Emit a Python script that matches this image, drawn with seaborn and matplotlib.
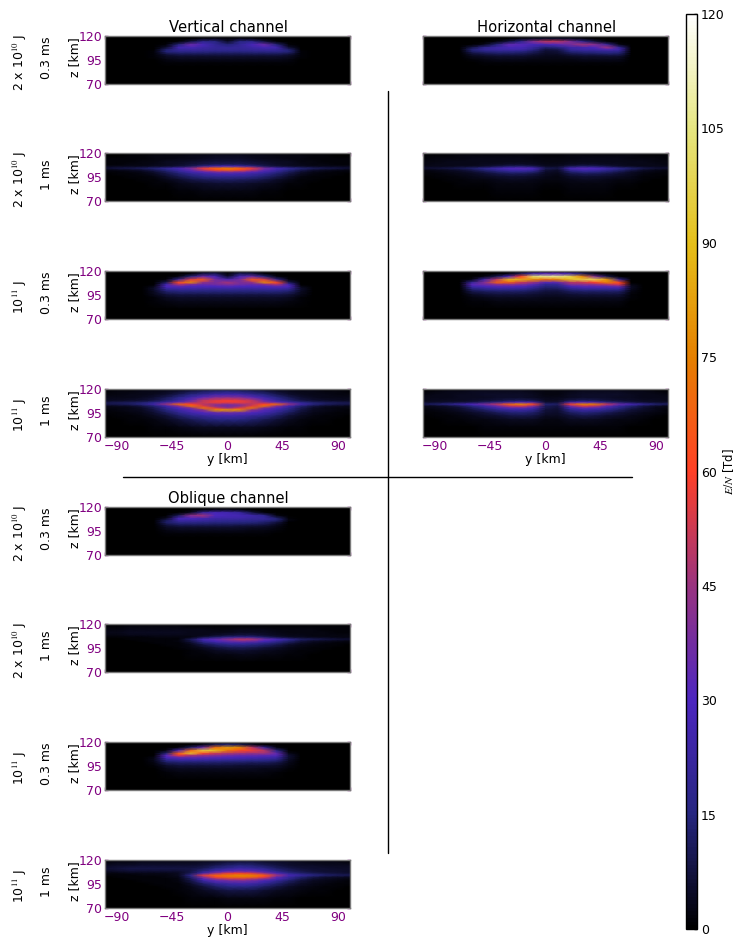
import numpy as np
import matplotlib
matplotlib.use("Agg")
import matplotlib.pyplot as plt
from matplotlib.lines import Line2D
import seaborn as sns

sns.set_style("white")
plt.rcParams.update({'font.size': 9, 'mathtext.fontset': 'stix', 'font.family': ['DejaVu Sans'],
                     'text.color': 'black', 'axes.labelcolor': 'black'})

# E/N values [Td], rows follow z_km, columns follow y_km
y_km = [-100, -90, -80, -70, -60, -50, -40, -30, -20, -10, 0, 10, 20, 30, 40, 50, 60, 70, 80, 90, 100]
z_km = [120, 117, 114, 111, 108, 106, 104, 102, 100, 98, 95, 92, 88, 80, 70]
blank = [0, 0, 0, 0, 0, 0, 0, 0, 0, 0, 0, 0, 0, 0, 0, 0, 0, 0, 0, 0, 0]

vert_2e10_03 = [
    blank,
    [0, 0, 0, 0, 0, 0, 0, 0, 2, 3, 1, 3, 2, 0, 0, 0, 0, 0, 0, 0, 0],
    [0, 0, 0, 0, 0, 0, 1, 8, 18, 16, 5, 16, 18, 8, 1, 0, 0, 0, 0, 0, 0],
    [0, 0, 0, 0, 0, 1, 14, 36, 28, 20, 14, 20, 28, 36, 14, 1, 0, 0, 0, 0, 0],
    [0, 0, 0, 0, 0, 6, 26, 28, 24, 21, 20, 21, 24, 28, 26, 6, 0, 0, 0, 0, 0],
    [0, 0, 0, 0, 0, 12, 22, 23, 22, 20, 20, 20, 22, 23, 22, 12, 0, 0, 0, 0, 0],
    [0, 0, 0, 0, 1, 15, 19, 19, 18, 17, 17, 17, 18, 19, 19, 15, 1, 0, 0, 0, 0],
    [0, 0, 0, 0, 1, 11, 13, 13, 13, 12, 12, 12, 13, 13, 13, 11, 1, 0, 0, 0, 0],
    [0, 0, 0, 0, 1, 6, 8, 8, 8, 8, 8, 8, 8, 8, 8, 6, 1, 0, 0, 0, 0],
    [0, 0, 0, 0, 1, 4, 5, 5, 5, 5, 5, 5, 5, 5, 5, 4, 1, 0, 0, 0, 0],
    [0, 0, 0, 0, 0, 2, 3, 3, 3, 3, 3, 3, 3, 3, 3, 2, 0, 0, 0, 0, 0],
    [0, 0, 0, 0, 0, 1, 1, 1, 1, 1, 1, 1, 1, 1, 1, 1, 0, 0, 0, 0, 0],
    blank,
    blank,
    blank,
]
vert_2e10_1 = [
    [0, 0, 0, 0, 0, 1, 1, 1, 1, 1, 1, 1, 1, 1, 1, 1, 0, 0, 0, 0, 0],
    [0, 0, 1, 1, 2, 2, 2, 3, 3, 4, 4, 4, 3, 3, 2, 2, 2, 1, 1, 0, 0],
    [1, 1, 1, 1, 2, 2, 3, 3, 4, 5, 5, 5, 4, 3, 3, 2, 2, 1, 1, 1, 1],
    [1, 1, 1, 2, 2, 4, 4, 5, 6, 7, 7, 7, 6, 5, 4, 4, 2, 2, 1, 1, 1],
    [1, 1, 2, 2, 3, 4, 5, 7, 8, 10, 10, 10, 8, 7, 5, 4, 3, 2, 2, 1, 1],
    [3, 3, 3, 3, 4, 5, 7, 10, 18, 26, 30, 26, 18, 10, 7, 5, 4, 3, 3, 3, 3],
    [6, 8, 9, 11, 14, 20, 27, 38, 56, 68, 74, 68, 56, 38, 27, 20, 14, 11, 9, 8, 6],
    [2, 3, 4, 6, 10, 15, 24, 34, 50, 62, 68, 62, 50, 34, 24, 15, 10, 6, 4, 3, 2],
    [1, 1, 2, 3, 6, 11, 18, 26, 32, 38, 40, 38, 32, 26, 18, 11, 6, 3, 2, 1, 1],
    [0, 1, 1, 2, 4, 8, 13, 19, 23, 26, 27, 26, 23, 19, 13, 8, 4, 2, 1, 1, 0],
    [0, 0, 1, 1, 2, 5, 9, 13, 16, 18, 18, 18, 16, 13, 9, 5, 2, 1, 1, 0, 0],
    [0, 0, 0, 1, 1, 3, 5, 8, 10, 11, 12, 11, 10, 8, 5, 3, 1, 1, 0, 0, 0],
    [0, 0, 0, 0, 1, 1, 3, 4, 5, 6, 6, 6, 5, 4, 3, 1, 1, 0, 0, 0, 0],
    [0, 0, 0, 0, 0, 0, 1, 1, 2, 2, 2, 2, 2, 1, 1, 0, 0, 0, 0, 0, 0],
    blank,
]
vert_1e11_03 = [
    blank,
    [0, 0, 0, 0, 0, 0, 0, 1, 8, 10, 1, 10, 8, 1, 0, 0, 0, 0, 0, 0, 0],
    [0, 0, 0, 0, 0, 0, 2, 15, 36, 28, 6, 28, 36, 15, 2, 0, 0, 0, 0, 0, 0],
    [0, 0, 0, 0, 0, 1, 20, 55, 66, 38, 28, 38, 66, 55, 20, 1, 0, 0, 0, 0, 0],
    [0, 0, 0, 0, 0, 10, 62, 78, 44, 38, 46, 38, 44, 78, 62, 10, 0, 0, 0, 0, 0],
    [0, 0, 0, 0, 0, 24, 50, 42, 36, 38, 42, 38, 36, 42, 50, 24, 0, 0, 0, 0, 0],
    [0, 0, 0, 0, 2, 30, 34, 30, 30, 30, 32, 30, 30, 30, 34, 30, 2, 0, 0, 0, 0],
    [0, 0, 0, 0, 5, 24, 26, 25, 24, 24, 25, 24, 24, 25, 26, 24, 5, 0, 0, 0, 0],
    [0, 0, 0, 0, 5, 17, 19, 19, 18, 18, 18, 18, 18, 19, 19, 17, 5, 0, 0, 0, 0],
    [0, 0, 0, 0, 4, 12, 14, 14, 14, 14, 14, 14, 14, 14, 14, 12, 4, 0, 0, 0, 0],
    [0, 0, 0, 0, 3, 7, 8, 8, 8, 8, 8, 8, 8, 8, 8, 7, 3, 0, 0, 0, 0],
    [0, 0, 0, 0, 1, 4, 5, 5, 5, 5, 5, 5, 5, 5, 5, 4, 1, 0, 0, 0, 0],
    [0, 0, 0, 0, 1, 2, 3, 3, 3, 3, 3, 3, 3, 3, 3, 2, 1, 0, 0, 0, 0],
    blank,
    blank,
]
vert_1e11_1 = [
    [1, 1, 1, 2, 2, 3, 3, 4, 5, 6, 6, 6, 5, 4, 3, 3, 2, 2, 1, 1, 1],
    [1, 2, 2, 3, 3, 4, 6, 9, 12, 14, 15, 14, 12, 9, 6, 4, 3, 3, 2, 2, 1],
    [2, 2, 3, 3, 4, 6, 10, 15, 20, 25, 26, 25, 20, 15, 10, 6, 4, 3, 3, 2, 2],
    [3, 3, 3, 4, 6, 10, 16, 24, 33, 40, 42, 40, 33, 24, 16, 10, 6, 4, 3, 3, 3],
    [4, 4, 5, 6, 8, 14, 22, 34, 50, 55, 58, 55, 50, 34, 22, 14, 8, 6, 5, 4, 4],
    [8, 9, 10, 12, 16, 24, 32, 42, 52, 58, 58, 58, 52, 42, 32, 24, 16, 12, 10, 9, 8],
    [9, 10, 12, 16, 26, 45, 70, 60, 50, 45, 42, 45, 50, 60, 70, 45, 26, 16, 12, 10, 9],
    [3, 4, 5, 8, 14, 26, 42, 72, 55, 40, 36, 40, 55, 72, 42, 26, 14, 8, 5, 4, 3],
    [2, 2, 3, 5, 10, 20, 30, 40, 72, 55, 44, 55, 72, 40, 30, 20, 10, 5, 3, 2, 2],
    [1, 2, 3, 4, 8, 15, 24, 32, 42, 78, 80, 78, 42, 32, 24, 15, 8, 4, 3, 2, 1],
    [1, 1, 2, 3, 6, 11, 18, 25, 30, 34, 36, 34, 30, 25, 18, 11, 6, 3, 2, 1, 1],
    [0, 1, 1, 2, 4, 7, 12, 17, 21, 24, 25, 24, 21, 17, 12, 7, 4, 2, 1, 1, 0],
    [0, 0, 1, 1, 2, 4, 7, 10, 13, 15, 15, 15, 13, 10, 7, 4, 2, 1, 1, 0, 0],
    [0, 0, 0, 0, 1, 1, 2, 3, 4, 4, 4, 4, 4, 3, 2, 1, 1, 0, 0, 0, 0],
    blank,
]

horiz_2e10_03 = [
    blank,
    [0, 0, 0, 0, 0, 0, 0, 0, 2, 4, 5, 5, 4, 2, 0, 0, 0, 0, 0, 0, 0],
    [0, 0, 0, 0, 0, 0, 2, 8, 18, 40, 50, 50, 40, 20, 8, 1, 0, 0, 0, 0, 0],
    [0, 0, 0, 0, 0, 3, 14, 34, 32, 28, 28, 32, 38, 46, 42, 22, 2, 0, 0, 0, 0],
    [0, 0, 0, 0, 8, 18, 24, 28, 28, 22, 14, 16, 24, 26, 30, 46, 20, 0, 0, 0, 0],
    [0, 0, 0, 0, 14, 22, 24, 26, 26, 18, 8, 10, 22, 25, 26, 32, 26, 0, 0, 0, 0],
    [0, 0, 0, 0, 13, 17, 18, 18, 17, 12, 6, 7, 15, 18, 19, 20, 20, 0, 0, 0, 0],
    [0, 0, 0, 0, 8, 11, 13, 13, 12, 9, 5, 6, 11, 13, 14, 15, 14, 0, 0, 0, 0],
    [0, 0, 0, 0, 5, 7, 8, 8, 8, 6, 4, 4, 7, 8, 8, 9, 9, 0, 0, 0, 0],
    [0, 0, 0, 0, 3, 4, 5, 5, 5, 4, 3, 3, 4, 5, 5, 5, 5, 0, 0, 0, 0],
    [0, 0, 0, 0, 1, 2, 3, 3, 3, 2, 2, 2, 2, 3, 3, 3, 3, 0, 0, 0, 0],
    [0, 0, 0, 0, 0, 1, 1, 1, 1, 1, 1, 1, 1, 1, 1, 1, 1, 0, 0, 0, 0],
    blank,
    blank,
    blank,
]
horiz_2e10_1 = [
    [0, 0, 1, 1, 1, 1, 1, 1, 1, 1, 1, 1, 1, 1, 1, 1, 1, 1, 1, 0, 0],
    [1, 1, 1, 2, 2, 2, 2, 2, 2, 2, 1, 1, 2, 2, 2, 2, 2, 2, 1, 1, 1],
    [1, 2, 2, 2, 3, 3, 3, 3, 3, 2, 2, 2, 2, 3, 3, 3, 3, 2, 2, 2, 1],
    [2, 2, 3, 3, 3, 3, 3, 3, 3, 3, 2, 2, 3, 3, 3, 3, 3, 3, 3, 2, 2],
    [2, 3, 3, 3, 3, 4, 4, 5, 5, 4, 3, 3, 4, 5, 5, 4, 4, 3, 3, 3, 2],
    [3, 3, 3, 4, 4, 5, 8, 11, 12, 9, 4, 4, 9, 12, 11, 8, 5, 4, 3, 3, 3],
    [6, 7, 8, 10, 13, 18, 24, 30, 32, 28, 10, 8, 27, 32, 30, 24, 18, 13, 9, 7, 6],
    [2, 3, 4, 6, 9, 14, 20, 25, 26, 23, 7, 5, 21, 26, 25, 20, 14, 9, 5, 3, 2],
    [1, 2, 3, 4, 6, 9, 13, 16, 17, 14, 5, 4, 13, 17, 16, 13, 9, 5, 3, 2, 1],
    [1, 1, 2, 3, 4, 6, 8, 10, 10, 8, 4, 3, 8, 10, 10, 8, 6, 4, 2, 1, 1],
    [0, 1, 1, 2, 3, 4, 5, 6, 6, 5, 3, 2, 5, 6, 6, 5, 4, 3, 1, 1, 0],
    [0, 0, 1, 1, 2, 2, 3, 4, 4, 3, 2, 2, 3, 4, 4, 3, 2, 2, 1, 0, 0],
    [0, 0, 0, 1, 1, 1, 2, 2, 2, 2, 1, 1, 2, 2, 2, 2, 1, 1, 0, 0, 0],
    [0, 0, 0, 0, 0, 0, 1, 1, 1, 1, 0, 0, 1, 1, 1, 1, 0, 0, 0, 0, 0],
    blank,
]
horiz_1e11_03 = [
    blank,
    [0, 0, 0, 0, 0, 0, 0, 2, 10, 25, 32, 32, 25, 12, 3, 0, 0, 0, 0, 0, 0],
    [0, 0, 0, 0, 0, 2, 10, 30, 60, 102, 106, 106, 98, 75, 40, 10, 0, 0, 0, 0, 0],
    [0, 0, 0, 0, 2, 24, 50, 88, 86, 78, 70, 76, 90, 96, 98, 80, 20, 0, 0, 0, 0],
    [0, 0, 0, 0, 20, 40, 68, 68, 52, 45, 32, 35, 48, 52, 60, 76, 62, 0, 0, 0, 0],
    [0, 0, 0, 0, 32, 38, 44, 45, 42, 34, 20, 22, 42, 44, 45, 50, 56, 2, 0, 0, 0],
    [0, 0, 0, 0, 26, 30, 32, 32, 30, 24, 15, 16, 28, 32, 33, 34, 38, 4, 0, 0, 0],
    [0, 0, 0, 0, 18, 22, 24, 24, 23, 18, 12, 13, 21, 24, 25, 25, 26, 4, 0, 0, 0],
    [0, 0, 0, 0, 12, 15, 16, 16, 15, 13, 9, 9, 14, 16, 16, 16, 17, 3, 0, 0, 0],
    [0, 0, 0, 0, 8, 10, 11, 11, 11, 9, 7, 7, 10, 11, 11, 11, 11, 2, 0, 0, 0],
    [0, 0, 0, 0, 4, 6, 7, 7, 7, 6, 5, 5, 6, 7, 7, 7, 7, 1, 0, 0, 0],
    [0, 0, 0, 0, 2, 3, 4, 4, 4, 4, 3, 3, 4, 4, 4, 4, 4, 1, 0, 0, 0],
    [0, 0, 0, 0, 1, 1, 2, 2, 2, 2, 2, 2, 2, 2, 2, 2, 2, 0, 0, 0, 0],
    blank,
    blank,
]
horiz_1e11_1 = [
    [0, 0, 1, 1, 1, 2, 2, 2, 2, 1, 1, 1, 1, 2, 2, 2, 2, 1, 1, 0, 0],
    [1, 2, 3, 3, 4, 4, 4, 4, 4, 3, 2, 2, 3, 4, 4, 4, 4, 3, 3, 2, 1],
    [2, 3, 3, 4, 4, 5, 5, 5, 5, 4, 2, 2, 4, 5, 5, 5, 5, 4, 3, 3, 2],
    [3, 3, 3, 4, 4, 4, 5, 5, 5, 4, 3, 3, 4, 5, 5, 5, 4, 4, 3, 3, 3],
    [3, 4, 4, 4, 5, 6, 7, 9, 10, 8, 4, 4, 8, 10, 9, 7, 6, 5, 4, 4, 3],
    [5, 5, 6, 7, 8, 12, 16, 24, 30, 24, 6, 6, 24, 30, 26, 16, 12, 8, 6, 5, 5],
    [10, 13, 17, 23, 30, 38, 50, 68, 78, 62, 14, 12, 58, 76, 74, 52, 36, 28, 20, 14, 11],
    [3, 4, 6, 10, 16, 24, 36, 50, 54, 42, 10, 8, 38, 54, 50, 34, 22, 14, 8, 5, 3],
    [2, 3, 4, 6, 11, 17, 25, 32, 34, 27, 9, 7, 25, 34, 32, 24, 16, 10, 6, 3, 2],
    [1, 2, 3, 5, 8, 12, 17, 22, 23, 19, 7, 6, 17, 23, 22, 17, 12, 7, 5, 3, 1],
    [1, 1, 2, 3, 5, 7, 10, 13, 14, 12, 6, 5, 11, 14, 13, 10, 7, 5, 3, 2, 1],
    [0, 1, 1, 2, 3, 5, 6, 8, 9, 8, 4, 4, 7, 9, 8, 6, 5, 3, 2, 1, 0],
    [0, 0, 1, 1, 2, 2, 3, 4, 4, 4, 2, 2, 4, 4, 4, 3, 2, 2, 1, 0, 0],
    [0, 0, 0, 0, 0, 1, 1, 1, 1, 1, 1, 1, 1, 1, 1, 1, 1, 0, 0, 0, 0],
    blank,
]

obl_2e10_03 = [
    blank,
    [0, 0, 0, 0, 0, 0, 0, 0, 1, 3, 3, 2, 0, 0, 0, 0, 0, 0, 0, 0, 0],
    [0, 0, 0, 0, 0, 0, 0, 4, 22, 28, 26, 22, 8, 1, 0, 0, 0, 0, 0, 0, 0],
    [0, 0, 0, 0, 0, 0, 10, 42, 46, 30, 28, 27, 24, 18, 2, 0, 0, 0, 0, 0, 0],
    [0, 0, 0, 0, 0, 4, 28, 30, 27, 24, 24, 24, 22, 22, 14, 1, 0, 0, 0, 0, 0],
    [0, 0, 0, 0, 0, 10, 24, 24, 23, 21, 20, 20, 19, 18, 14, 2, 0, 0, 0, 0, 0],
    [0, 0, 0, 0, 0, 13, 18, 18, 17, 16, 16, 15, 15, 13, 8, 0, 0, 0, 0, 0, 0],
    [0, 0, 0, 0, 0, 9, 13, 13, 13, 12, 12, 12, 11, 10, 5, 0, 0, 0, 0, 0, 0],
    [0, 0, 0, 0, 0, 6, 8, 8, 8, 8, 8, 7, 7, 6, 3, 0, 0, 0, 0, 0, 0],
    [0, 0, 0, 0, 0, 4, 5, 5, 5, 5, 5, 5, 4, 4, 2, 0, 0, 0, 0, 0, 0],
    [0, 0, 0, 0, 0, 2, 3, 3, 3, 3, 3, 3, 2, 2, 1, 0, 0, 0, 0, 0, 0],
    [0, 0, 0, 0, 0, 1, 1, 1, 1, 1, 1, 1, 1, 1, 0, 0, 0, 0, 0, 0, 0],
    blank,
    blank,
    blank,
]
obl_2e10_1 = [
    [0, 0, 1, 1, 1, 1, 1, 1, 0, 0, 1, 1, 1, 1, 0, 0, 0, 0, 0, 0, 0],
    [1, 1, 2, 2, 2, 2, 2, 1, 1, 1, 1, 1, 1, 1, 1, 1, 1, 1, 1, 1, 1],
    [2, 2, 3, 3, 3, 3, 3, 3, 3, 2, 2, 3, 3, 3, 2, 2, 2, 2, 1, 1, 1],
    [3, 3, 4, 4, 4, 4, 4, 3, 3, 3, 3, 4, 4, 4, 3, 2, 2, 2, 2, 1, 1],
    [2, 2, 3, 3, 3, 3, 3, 3, 3, 5, 7, 8, 8, 6, 4, 3, 3, 2, 2, 2, 2],
    [1, 1, 1, 1, 2, 2, 2, 2, 8, 13, 18, 20, 19, 13, 8, 5, 4, 3, 3, 2, 2],
    [0, 0, 1, 1, 1, 1, 1, 10, 26, 34, 42, 50, 48, 36, 28, 20, 12, 10, 8, 7, 6],
    [0, 0, 0, 1, 1, 1, 2, 8, 22, 30, 36, 40, 38, 30, 22, 14, 8, 5, 4, 3, 2],
    [0, 0, 0, 0, 1, 1, 1, 5, 14, 20, 24, 25, 23, 19, 14, 9, 5, 3, 2, 1, 1],
    [0, 0, 0, 0, 0, 1, 1, 3, 8, 13, 16, 17, 15, 13, 9, 5, 3, 2, 1, 1, 0],
    [0, 0, 0, 0, 0, 0, 1, 2, 4, 7, 9, 10, 9, 7, 5, 3, 2, 1, 1, 0, 0],
    [0, 0, 0, 0, 0, 0, 0, 1, 2, 4, 5, 6, 5, 4, 3, 2, 1, 1, 0, 0, 0],
    [0, 0, 0, 0, 0, 0, 0, 1, 1, 2, 2, 3, 3, 2, 2, 1, 1, 0, 0, 0, 0],
    blank,
    blank,
]
obl_1e11_03 = [
    blank,
    [0, 0, 0, 0, 0, 0, 0, 0, 3, 10, 14, 10, 4, 0, 0, 0, 0, 0, 0, 0, 0],
    [0, 0, 0, 0, 0, 0, 1, 12, 35, 70, 82, 76, 50, 22, 2, 0, 0, 0, 0, 0, 0],
    [0, 0, 0, 0, 0, 2, 28, 68, 95, 90, 72, 62, 58, 50, 16, 0, 0, 0, 0, 0, 0],
    [0, 0, 0, 0, 0, 14, 66, 92, 62, 52, 48, 46, 44, 46, 34, 3, 0, 0, 0, 0, 0],
    [0, 0, 0, 0, 0, 32, 58, 48, 44, 42, 38, 36, 36, 34, 32, 6, 0, 0, 0, 0, 0],
    [0, 0, 0, 0, 2, 30, 36, 36, 34, 32, 30, 29, 28, 27, 24, 6, 0, 0, 0, 0, 0],
    [0, 0, 0, 0, 3, 22, 27, 27, 26, 25, 24, 23, 22, 21, 19, 5, 0, 0, 0, 0, 0],
    [0, 0, 0, 0, 3, 15, 18, 18, 18, 17, 16, 16, 15, 15, 13, 4, 0, 0, 0, 0, 0],
    [0, 0, 0, 0, 2, 10, 12, 12, 12, 12, 11, 11, 10, 10, 8, 3, 0, 0, 0, 0, 0],
    [0, 0, 0, 0, 1, 5, 7, 7, 7, 7, 7, 6, 6, 6, 5, 2, 0, 0, 0, 0, 0],
    [0, 0, 0, 0, 0, 3, 4, 4, 4, 4, 4, 4, 4, 3, 3, 1, 0, 0, 0, 0, 0],
    [0, 0, 0, 0, 0, 1, 2, 2, 2, 2, 2, 2, 2, 2, 1, 0, 0, 0, 0, 0, 0],
    blank,
    blank,
]
obl_1e11_1 = [
    [1, 1, 1, 2, 2, 2, 2, 2, 2, 3, 3, 4, 4, 3, 3, 2, 2, 2, 2, 1, 1],
    [2, 3, 3, 4, 4, 4, 4, 4, 5, 6, 8, 9, 9, 7, 6, 5, 4, 3, 3, 3, 2],
    [4, 5, 5, 6, 6, 6, 6, 6, 7, 10, 13, 15, 14, 11, 8, 6, 5, 5, 4, 4, 4],
    [6, 7, 8, 8, 8, 8, 8, 8, 10, 15, 20, 24, 22, 18, 12, 9, 7, 6, 6, 5, 5],
    [4, 5, 6, 6, 6, 6, 6, 8, 16, 26, 32, 35, 33, 26, 18, 12, 9, 7, 6, 6, 5],
    [2, 2, 3, 3, 3, 3, 4, 10, 26, 44, 56, 58, 54, 42, 28, 18, 13, 10, 8, 7, 6],
    [1, 1, 1, 2, 2, 2, 4, 18, 55, 68, 72, 76, 74, 66, 46, 28, 22, 16, 13, 11, 10],
    [0, 1, 1, 1, 1, 2, 3, 14, 42, 62, 70, 72, 70, 58, 34, 22, 14, 9, 6, 5, 4],
    [0, 0, 1, 1, 1, 1, 2, 10, 30, 44, 50, 52, 48, 40, 28, 18, 10, 6, 4, 3, 2],
    [0, 0, 0, 1, 1, 1, 2, 8, 22, 32, 36, 38, 36, 28, 20, 12, 7, 4, 3, 2, 1],
    [0, 0, 0, 0, 1, 1, 1, 5, 12, 19, 23, 25, 24, 19, 13, 8, 5, 3, 2, 1, 1],
    [0, 0, 0, 0, 0, 1, 1, 3, 7, 12, 15, 16, 15, 12, 8, 5, 3, 2, 1, 1, 0],
    [0, 0, 0, 0, 0, 0, 1, 2, 4, 6, 8, 8, 8, 6, 4, 3, 2, 1, 1, 0, 0],
    [0, 0, 0, 0, 0, 0, 0, 1, 1, 1, 2, 2, 2, 2, 1, 1, 0, 0, 0, 0, 0],
    blank,
]

energy_labels = ['2 x 10$^{10}$ J', '2 x 10$^{10}$ J', '10$^{11}$ J', '10$^{11}$ J']
time_labels = ['0.3 ms', '1 ms', '0.3 ms', '1 ms']
cbar_ticks = [0, 15, 30, 45, 60, 75, 90, 105, 120]
z_ticks = [70, 95, 120]
y_ticks = [-90, -45, 0, 45, 90]

W, H = 739, 939
purple = '#800080'
edge = '#7a7a7a'
cmap = sns.color_palette("CMRmap", as_cmap=True)
fig = plt.figure(figsize=(W / 100, H / 100), dpi=100)


def pixel_axes(x, top, w, h):
    return fig.add_axes([x / W, 1 - (top + h) / H, w / W, h / H])


def panel(data, x, top, col_left, bottom, yt=z_ticks):
    ax = pixel_axes(x, top, 245, 48)
    mesh = ax.pcolormesh(y_km, z_km, np.array(data), cmap=cmap, vmin=0, vmax=120,
                         shading='gouraud', rasterized=True)
    ax.set_xlim(-100, 100)
    ax.set_ylim(70, 120)
    ax.set_xticks(y_ticks if bottom else [-100, -50, 0, 50, 100])
    ax.set_yticks(yt)
    ax.tick_params(axis='both', which='major', direction='in', length=2.5, width=1,
                   color=purple, labelcolor=purple, labelsize=9, top=True, right=True,
                   bottom=True, left=True, pad=2,
                   labelleft=col_left, labelbottom=bottom)
    for s in ax.spines.values():
        s.set_color(edge)
        s.set_linewidth(1)
        s.set_visible(True)
    if col_left:
        ax.text(74.5 / W, 1 - (top + 21) / H, 'z [km]', rotation=90, ha='center', va='center',
                fontsize=9, transform=fig.transFigure)
    if bottom:
        ax.set_xlabel('y [km]', fontsize=9, labelpad=0)
    return mesh


left_tops = [36, 153, 271, 389]
obl_tops = [507, 624, 742, 860]
vert = [vert_2e10_03, vert_2e10_1, vert_1e11_03, vert_1e11_1]
horiz = [horiz_2e10_03, horiz_2e10_1, horiz_1e11_03, horiz_1e11_1]
obl = [obl_2e10_03, obl_2e10_1, obl_1e11_03, obl_1e11_1]

for i in range(4):
    mesh = panel(vert[i], 105, left_tops[i], True, i == 3)
    panel(horiz[i], 423, left_tops[i], False, i == 3,
          yt=[70, 80, 90, 100, 110, 120] if i == 3 else z_ticks)
    panel(obl[i], 105, obl_tops[i], True, i == 3)
    for top in (left_tops[i], obl_tops[i]):
        fig.text(20 / W, 1 - (top + 24 + 2.5) / H, energy_labels[i], rotation=90,
                 ha='center', va='center', fontsize=9)
        fig.text(47 / W, 1 - (top + 22) / H, time_labels[i], rotation=90,
                 ha='center', va='center', fontsize=9)

fig.text(228.5 / W, 1 - 28 / H, 'Vertical channel', ha='center', va='center', fontsize=10.6)
fig.text(546.5 / W, 1 - 28 / H, 'Horizontal channel', ha='center', va='center', fontsize=10.6)
fig.text(228.5 / W, 1 - 499 / H, 'Oblique channel', ha='center', va='center', fontsize=10.6)

fig.add_artist(Line2D([388.5 / W, 388.5 / W], [1 - 91 / H, 1 - 853 / H], color='black', lw=1))
fig.add_artist(Line2D([123 / W, 632 / W], [1 - 477.5 / H, 1 - 477.5 / H], color='black', lw=1))

cax = pixel_axes(686, 14, 11, 915)
cb = fig.colorbar(mesh, cax=cax, ticks=cbar_ticks)
cb.outline.set_edgecolor('black')
cb.outline.set_linewidth(1)
cax.tick_params(direction='in', length=2, width=1, color='black', labelcolor='black',
                labelsize=9, pad=3, right=True, left=False)
fig.text(729 / W, 1 - 472 / H, '$E/N$ [Td]', rotation=90, ha='center', va='center', fontsize=8.5)

fig.savefig('out.png', dpi=100)
